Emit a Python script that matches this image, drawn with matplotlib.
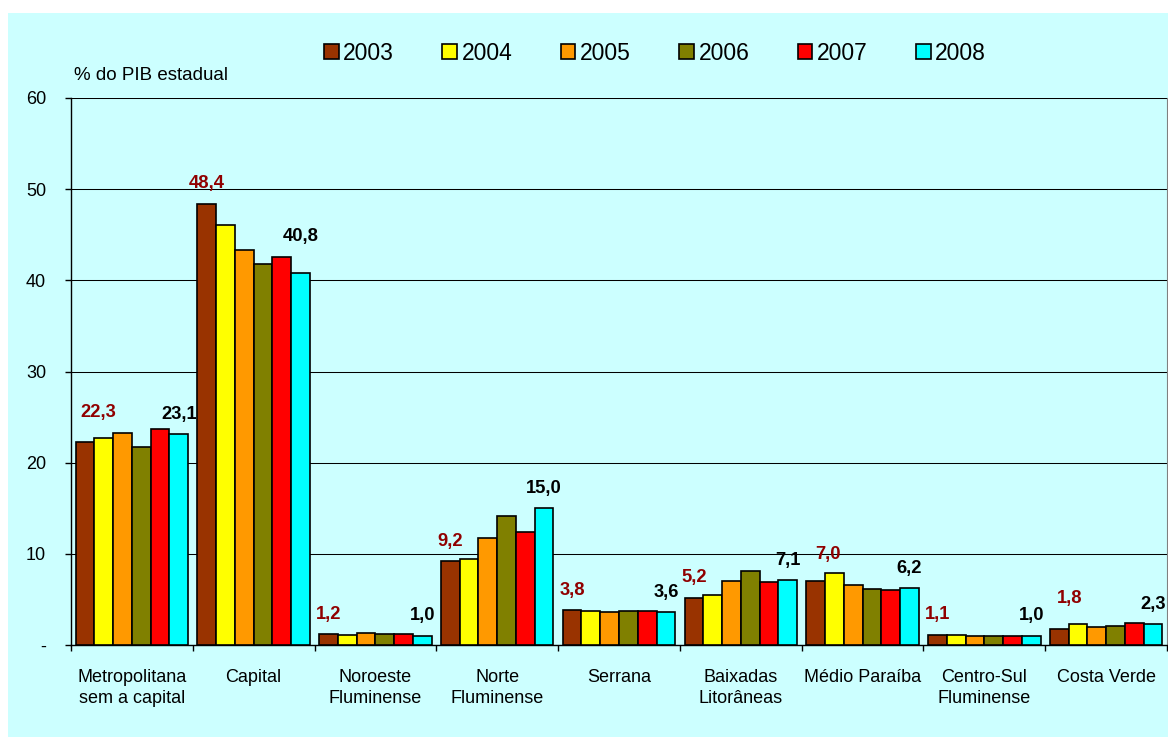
import matplotlib.pyplot as plt
from matplotlib.patches import Rectangle

plt.rcParams['font.family'] = ['Liberation Sans', 'DejaVu Sans']

regioes = ['Metropolitana\nsem a capital', 'Capital', 'Noroeste\nFluminense', 'Norte\nFluminense',
           'Serrana', 'Baixadas\nLitorâneas', 'Médio Paraíba', 'Centro-Sul\nFluminense', 'Costa Verde']
anos = ['2003', '2004', '2005', '2006', '2007', '2008']

v2003 = [22.3, 48.4, 1.2, 9.2, 3.8, 5.2, 7.0, 1.1, 1.8]
v2004 = [22.7, 46.1, 1.15, 9.4, 3.75, 5.5, 7.95, 1.05, 2.25]
v2005 = [23.2, 43.3, 1.35, 11.7, 3.65, 7.05, 6.55, 1.0, 2.0]
v2006 = [21.7, 41.8, 1.2, 14.1, 3.7, 8.15, 6.1, 0.98, 2.05]
v2007 = [23.7, 42.6, 1.2, 12.35, 3.7, 6.95, 6.0, 1.0, 2.45]
v2008 = [23.1, 40.8, 1.0, 15.0, 3.6, 7.1, 6.2, 1.0, 2.3]
series = [v2003, v2004, v2005, v2006, v2007, v2008]

cores = ['#993300', '#FFFF00', '#FF9900', '#808000', '#FF0000', '#00FFFF']
fundo = '#CCFFFF'
vermelho_escuro = '#900000'

# deslocamento dos rótulos (px) acima da barra: (dx, dy)
desloc_primeiro = {0: (13, 29), 6: (12.5, 27), 8: (10.7, 30)}
desloc_ultimo = {1: (0, 37)}

W, H = 1168, 738
fig = plt.figure(figsize=(W / 100, H / 100), dpi=100)
fig.patch.set_facecolor('white')
fig.add_artist(Rectangle((8 / W, 1 / H), 1 - 8 / W, 1 - 14 / H, transform=fig.transFigure,
                         facecolor=fundo, edgecolor='none', zorder=-10))

ax = fig.add_axes([71 / W, 1 - 645 / H, 1096 / W, (645 - 98) / H])
ax.set_facecolor('none')

larg = 0.154
n = len(regioes)
barras = []
for j, (vals, cor) in enumerate(zip(series, cores)):
    xs = [i + (j - 2.5) * larg for i in range(n)]
    b = ax.bar(xs, vals, width=larg, color=cor, edgecolor='black', linewidth=1.2, zorder=3, label=anos[j])
    barras.append(b)

px = 0.72  # px -> pt
for i in range(n):
    for j, cor_txt, desl in [(0, vermelho_escuro, desloc_primeiro), (5, 'black', desloc_ultimo)]:
        v = series[j][i]
        x = i + (j - 2.5) * larg
        dx, dy = desl.get(i, (0, 20))
        ax.annotate(f'{v:.1f}'.replace('.', ','), (x, v), xytext=(dx * px, dy * px),
                    textcoords='offset points', ha='center', va='center', fontsize=13.2,
                    fontweight='bold', color=cor_txt, annotation_clip=False, zorder=5)

ax.set_xlim(-0.5, n - 0.5)
ax.set_ylim(0, 60)
ax.set_yticks(range(0, 61, 10))
ax.set_yticklabels(['-'] + [str(t) for t in range(10, 61, 10)])
ax.yaxis.grid(True, color='black', linewidth=0.75, zorder=0)
ax.tick_params(axis='y', length=4, width=1, direction='out', pad=14, labelsize=13)

ax.set_xticks([i - 0.5 for i in range(n + 1)])
ax.set_xticklabels([])
ax.set_xticks(range(n), minor=True)
ax.set_xticklabels(regioes, minor=True, fontsize=13, linespacing=1.3, va='top')
ax.tick_params(axis='x', which='major', length=4, width=1, direction='out')
ax.tick_params(axis='x', which='minor', length=0, pad=17)

for s in ['top']:
    ax.spines[s].set_visible(False)
ax.spines['right'].set_color('#808080')
ax.spines['left'].set_linewidth(1)
ax.spines['bottom'].set_linewidth(1)

fig.text(74 / W, 1 - 75 / H, '% do PIB estadual', fontsize=13.5, ha='left', va='center')

fig.legend(handles=barras, labels=anos, loc='center', bbox_to_anchor=(655 / W, 1 - 53 / H),
           ncol=6, frameon=False, fontsize=16.5, handlelength=0.65, handleheight=0.65,
           handletextpad=0.2, columnspacing=2.1, borderpad=0)

fig.savefig('out.png', dpi=100, facecolor=fig.get_facecolor())
